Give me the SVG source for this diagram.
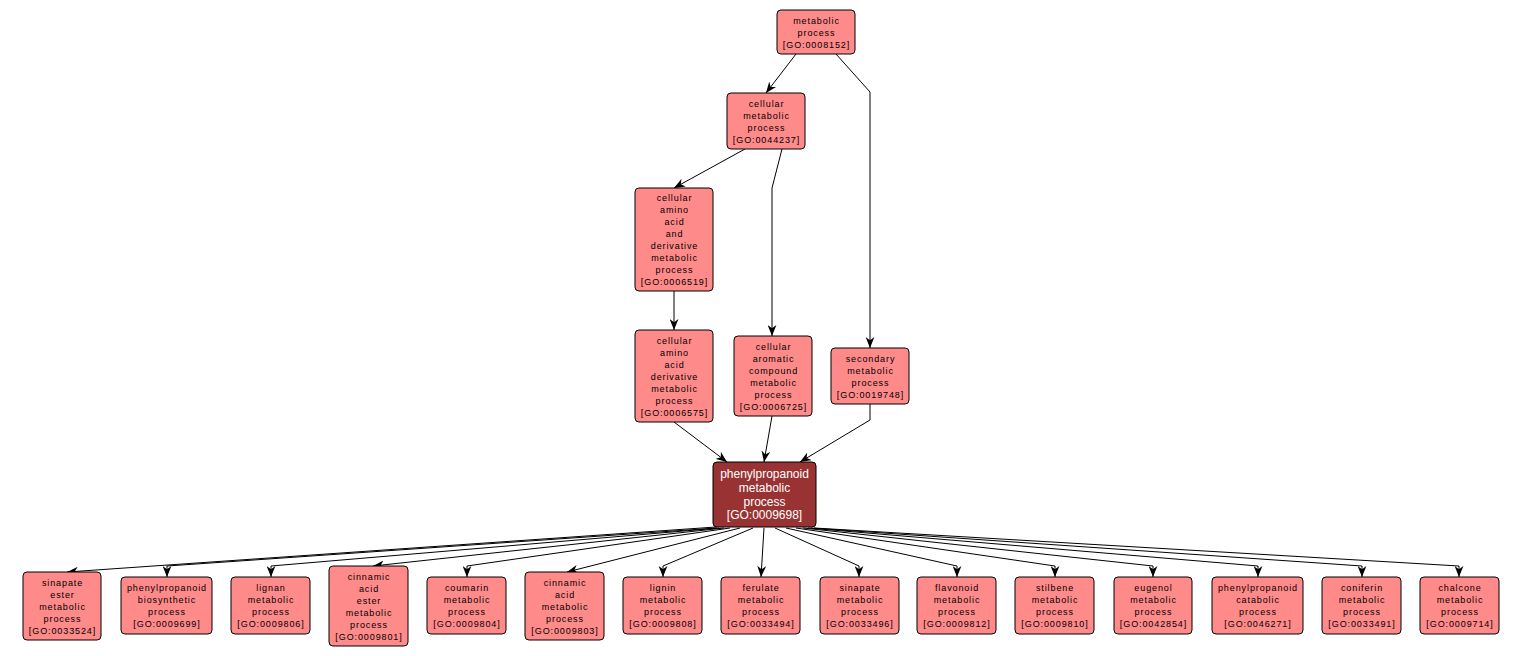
<svg xmlns="http://www.w3.org/2000/svg" width="1522" height="656" viewBox="0 0 1522 656">
<style>
.n rect{fill:#ff8a8a;stroke:#000;stroke-width:1}
.n text{font-family:"Liberation Sans",Arial,sans-serif;font-size:9px;letter-spacing:0.9px;fill:#000;text-anchor:middle}
.m rect{fill:#993333;stroke:#000;stroke-width:1}
.m text{font-family:"Liberation Sans",Arial,sans-serif;font-size:12px;fill:#fff;text-anchor:middle}
.e path{fill:none;stroke:#000;stroke-width:1;marker-end:url(#a)}
</style>
<defs>
<marker id="a" viewBox="0 0 10 8" refX="10" refY="4" markerWidth="11" markerHeight="9" markerUnits="userSpaceOnUse" orient="auto">
<path d="M0,0 L10,4 L0,8 L3,4 z" fill="#000"/>
</marker>
</defs>
<rect width="1522" height="656" fill="#fff"/>
<g id="edges" class="e">
<path d="M796,54 L766,93"/>
<path d="M836,54 L870,92 L870,348"/>
<path d="M745,149 L674,188"/>
<path d="M782,149 L772,188 L772,336"/>
<path d="M674,291 L674,330"/>
<path d="M674,422 L727,462"/>
<path d="M772,416 L764,462"/>
<path d="M870,404 L870,420 L800,462"/>
<path d="M716,527 L67,572"/>
<path d="M717,528 L167,566 L167,577"/>
<path d="M719,528 L271,566 L271,577"/>
<path d="M724,528 L373,566"/>
<path d="M730,528 L467,566 L467,577"/>
<path d="M740,528 L567,572"/>
<path d="M753,528 L663,566 L663,577"/>
<path d="M764,528 L761,577"/>
<path d="M775,528 L859,566 L859,577"/>
<path d="M786,528 L957,566 L957,577"/>
<path d="M796,528 L1055,566 L1055,577"/>
<path d="M803,528 L1153,566 L1153,577"/>
<path d="M808,528 L1258,566 L1258,577"/>
<path d="M811,528 L1362,566 L1362,577"/>
<path d="M814,528 L1459,566 L1459,577"/>
</g>
<g id="GO0008152" class="n"><rect x="777" y="10" width="78" height="44" rx="4"/>
<text x="816.5" y="23.5">metabolic</text><text x="816.5" y="35.5">process</text><text x="816.5" y="47.5">[GO:0008152]</text></g>
<g id="GO0044237" class="n"><rect x="727" y="93" width="78" height="56" rx="4"/>
<text x="766.5" y="106.5">cellular</text><text x="766.5" y="118.5">metabolic</text><text x="766.5" y="130.5">process</text><text x="766.5" y="142.5">[GO:0044237]</text></g>
<g id="GO0006519" class="n"><rect x="635" y="188" width="78" height="103" rx="4"/>
<text x="674.5" y="201">cellular</text><text x="674.5" y="213">amino</text><text x="674.5" y="225">acid</text><text x="674.5" y="237">and</text><text x="674.5" y="249">derivative</text><text x="674.5" y="261">metabolic</text><text x="674.5" y="273">process</text><text x="674.5" y="285">[GO:0006519]</text></g>
<g id="GO0006575" class="n"><rect x="635" y="330" width="78" height="92" rx="4"/>
<text x="674.5" y="343.5">cellular</text><text x="674.5" y="355.5">amino</text><text x="674.5" y="367.5">acid</text><text x="674.5" y="379.5">derivative</text><text x="674.5" y="391.5">metabolic</text><text x="674.5" y="403.5">process</text><text x="674.5" y="415.5">[GO:0006575]</text></g>
<g id="GO0006725" class="n"><rect x="734" y="336" width="78" height="80" rx="4"/>
<text x="773.5" y="349.5">cellular</text><text x="773.5" y="361.5">aromatic</text><text x="773.5" y="373.5">compound</text><text x="773.5" y="385.5">metabolic</text><text x="773.5" y="397.5">process</text><text x="773.5" y="409.5">[GO:0006725]</text></g>
<g id="GO0019748" class="n"><rect x="831" y="348" width="78" height="56" rx="4"/>
<text x="870.5" y="361.5">secondary</text><text x="870.5" y="373.5">metabolic</text><text x="870.5" y="385.5">process</text><text x="870.5" y="397.5">[GO:0019748]</text></g>
<g id="GO0009698" class="m"><rect x="713" y="462" width="103" height="65" rx="4"/>
<text x="764.5" y="478">phenylpropanoid</text><text x="764.5" y="492">metabolic</text><text x="764.5" y="505.5">process</text><text x="764.5" y="519">[GO:0009698]</text></g>
<g id="GO0033524" class="n"><rect x="23" y="572" width="78" height="68" rx="4"/>
<text x="62.5" y="585.5">sinapate</text><text x="62.5" y="597.5">ester</text><text x="62.5" y="609.5">metabolic</text><text x="62.5" y="621.5">process</text><text x="62.5" y="633.5">[GO:0033524]</text></g>
<g id="GO0009699" class="n"><rect x="121" y="577" width="91" height="57" rx="4"/>
<text x="167" y="591">phenylpropanoid</text><text x="167" y="603">biosynthetic</text><text x="167" y="615">process</text><text x="167" y="627">[GO:0009699]</text></g>
<g id="GO0009806" class="n"><rect x="231" y="577" width="79" height="57" rx="4"/>
<text x="271" y="591">lignan</text><text x="271" y="603">metabolic</text><text x="271" y="615">process</text><text x="271" y="627">[GO:0009806]</text></g>
<g id="GO0009801" class="n"><rect x="329" y="566" width="79" height="80" rx="4"/>
<text x="369" y="579.5">cinnamic</text><text x="369" y="591.5">acid</text><text x="369" y="603.5">ester</text><text x="369" y="615.5">metabolic</text><text x="369" y="627.5">process</text><text x="369" y="639.5">[GO:0009801]</text></g>
<g id="GO0009804" class="n"><rect x="427" y="577" width="79" height="57" rx="4"/>
<text x="467" y="591">coumarin</text><text x="467" y="603">metabolic</text><text x="467" y="615">process</text><text x="467" y="627">[GO:0009804]</text></g>
<g id="GO0009803" class="n"><rect x="525" y="572" width="79" height="68" rx="4"/>
<text x="565" y="585.5">cinnamic</text><text x="565" y="597.5">acid</text><text x="565" y="609.5">metabolic</text><text x="565" y="621.5">process</text><text x="565" y="633.5">[GO:0009803]</text></g>
<g id="GO0009808" class="n"><rect x="623" y="577" width="79" height="57" rx="4"/>
<text x="663" y="591">lignin</text><text x="663" y="603">metabolic</text><text x="663" y="615">process</text><text x="663" y="627">[GO:0009808]</text></g>
<g id="GO0033494" class="n"><rect x="721" y="577" width="79" height="57" rx="4"/>
<text x="761" y="591">ferulate</text><text x="761" y="603">metabolic</text><text x="761" y="615">process</text><text x="761" y="627">[GO:0033494]</text></g>
<g id="GO0033496" class="n"><rect x="820" y="577" width="79" height="57" rx="4"/>
<text x="860" y="591">sinapate</text><text x="860" y="603">metabolic</text><text x="860" y="615">process</text><text x="860" y="627">[GO:0033496]</text></g>
<g id="GO0009812" class="n"><rect x="917" y="577" width="79" height="57" rx="4"/>
<text x="957" y="591">flavonoid</text><text x="957" y="603">metabolic</text><text x="957" y="615">process</text><text x="957" y="627">[GO:0009812]</text></g>
<g id="GO0009810" class="n"><rect x="1015" y="577" width="79" height="57" rx="4"/>
<text x="1055" y="591">stilbene</text><text x="1055" y="603">metabolic</text><text x="1055" y="615">process</text><text x="1055" y="627">[GO:0009810]</text></g>
<g id="GO0042854" class="n"><rect x="1114" y="577" width="78" height="57" rx="4"/>
<text x="1153.5" y="591">eugenol</text><text x="1153.5" y="603">metabolic</text><text x="1153.5" y="615">process</text><text x="1153.5" y="627">[GO:0042854]</text></g>
<g id="GO0046271" class="n"><rect x="1212" y="577" width="91" height="57" rx="4"/>
<text x="1258" y="591">phenylpropanoid</text><text x="1258" y="603">catabolic</text><text x="1258" y="615">process</text><text x="1258" y="627">[GO:0046271]</text></g>
<g id="GO0033491" class="n"><rect x="1322" y="577" width="79" height="57" rx="4"/>
<text x="1362" y="591">coniferin</text><text x="1362" y="603">metabolic</text><text x="1362" y="615">process</text><text x="1362" y="627">[GO:0033491]</text></g>
<g id="GO0009714" class="n"><rect x="1420" y="577" width="79" height="57" rx="4"/>
<text x="1460" y="591">chalcone</text><text x="1460" y="603">metabolic</text><text x="1460" y="615">process</text><text x="1460" y="627">[GO:0009714]</text></g>
</svg>
